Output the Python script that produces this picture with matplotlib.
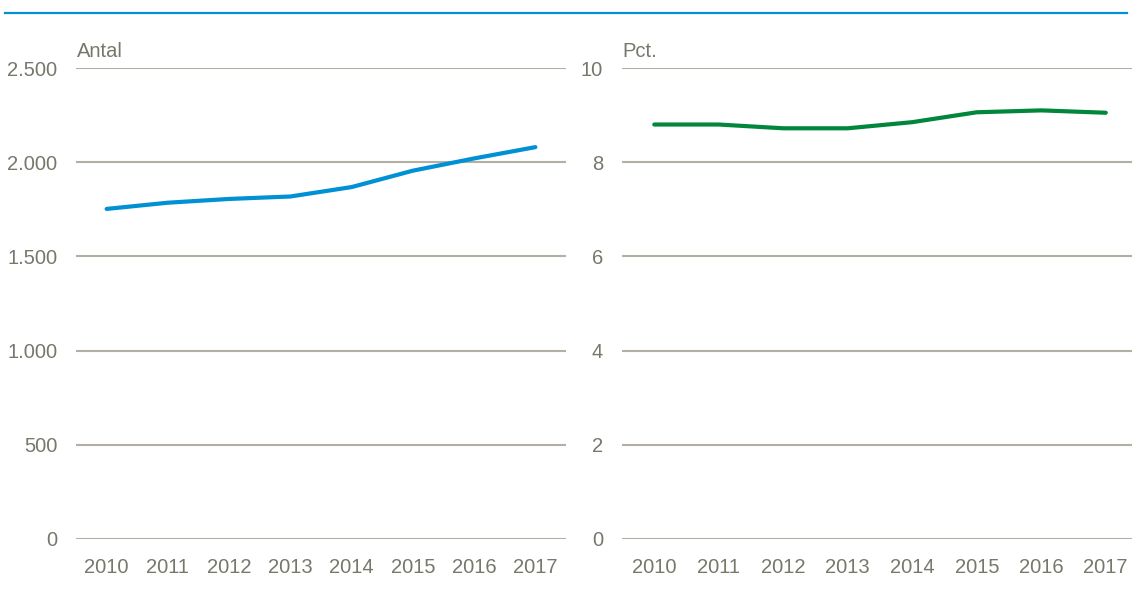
import matplotlib.pyplot as plt
from matplotlib.lines import Line2D

years = [2010, 2011, 2012, 2013, 2014, 2015, 2016, 2017]
antal = [1752, 1785, 1805, 1818, 1868, 1955, 2020, 2080]
pct = [8.80, 8.80, 8.72, 8.72, 8.85, 9.06, 9.10, 9.05]

left_ticks = [0, 500, 1000, 1500, 2000, 2500]
left_labels = ['0', '500', '1.000', '1.500', '2.000', '2.500']
right_ticks = [0, 2, 4, 6, 8, 10]

plt.rcParams['font.family'] = ['Liberation Sans', 'DejaVu Sans']
text_col = '#77776b'
grid_col = '#b3b0a3'

fig = plt.figure(figsize=(11.32, 5.93), dpi=100)
fig.add_artist(Line2D([0.004, 0.996], [1 - 13 / 593, 1 - 13 / 593],
                      color='#0090d4', lw=1.6, transform=fig.transFigure))

ax1 = fig.add_axes([76 / 1132, 1 - 539 / 593, 490 / 1132, 471 / 593])
ax2 = fig.add_axes([622 / 1132, 1 - 539 / 593, 516 / 1132, 471 / 593])


def style(ax, ticks, labels, ymax):
    ax.set_xlim(2009.5, 2017.5)
    ax.set_ylim(0, ymax)
    ax.set_yticks(ticks)
    ax.set_yticklabels(labels)
    ax.set_xticks(years)
    ax.set_xticklabels([str(y) for y in years])
    for s in ax.spines.values():
        s.set_visible(False)
    ax.grid(axis='y', color=grid_col, lw=1.5)
    ax.set_axisbelow(True)
    ax.tick_params(axis='both', length=0, labelsize=14.5, colors=text_col)
    ax.tick_params(axis='y', pad=13.5)
    ax.tick_params(axis='x', pad=14)
    ax.set_facecolor('none')


style(ax1, left_ticks, left_labels, 2500)
style(ax2, right_ticks, [str(t) for t in right_ticks], 10)

ax1.plot(years, antal, color='#0090d4', lw=3, solid_capstyle='round', clip_on=False)
ax2.plot(years, pct, color='#00873c', lw=3, solid_capstyle='round', clip_on=False)

fig.text(77 / 1132, 1 - 57 / 593, 'Antal', fontsize=14.5, color=text_col, va='baseline')
fig.text(622 / 1132, 1 - 57 / 593, 'Pct.', fontsize=14.5, color=text_col, va='baseline')

fig.savefig('out.png', dpi=100)
